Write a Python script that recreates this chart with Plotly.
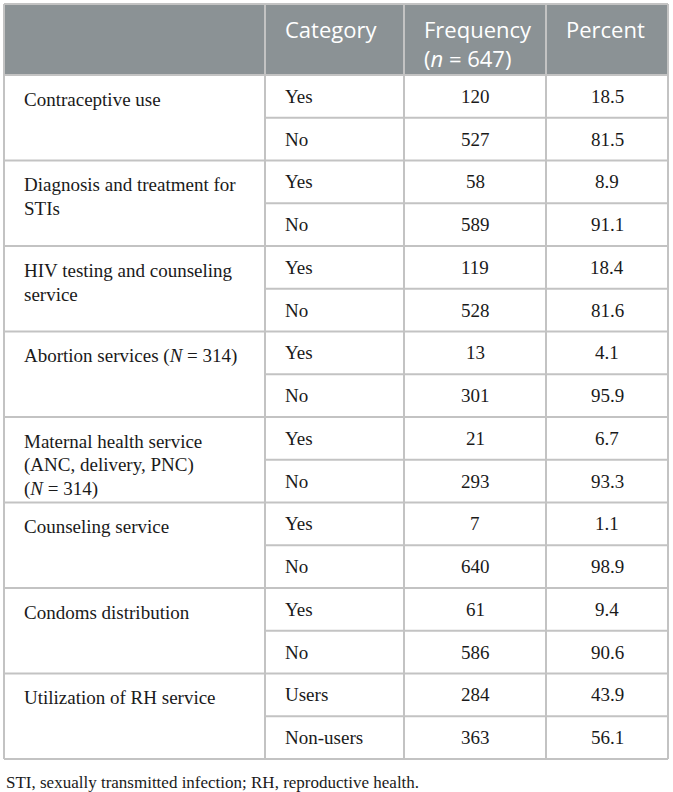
import plotly.graph_objects as go

# table data
groups = [
    "Contraceptive use",
    "Diagnosis and treatment for<br>STIs",
    "HIV testing and counseling<br>service",
    "Abortion services (<i>N</i> = 314)",
    "Maternal health service<br>(ANC, delivery, PNC)<br>(<i>N</i> = 314)",
    "Counseling service",
    "Condoms distribution",
    "Utilization of RH service",
]
categories = [
    "Yes", "No", "Yes", "No", "Yes", "No", "Yes", "No",
    "Yes", "No", "Yes", "No", "Yes", "No", "Users", "Non-users",
]
frequency = [120, 527, 58, 589, 119, 528, 13, 301, 21, 293, 7, 640, 61, 586, 284, 363]
percent = [18.5, 81.5, 8.9, 91.1, 18.4, 81.6, 4.1, 95.9, 6.7, 93.3, 1.1, 98.9, 9.4, 90.6, 43.9, 56.1]
headers = ["", "Category", "Frequency<br>(<i>n</i> = 647)", "Percent"]
footnote = "STI, sexually transmitted infection; RH, reproductive health."

# geometry (pixels)
W, H = 673, 792
col_x = [4, 265, 404, 546, 668]
top, head_bot, bot = 4, 75, 759
row_h = (bot - head_bot) / len(categories)
pad = 18
line_col = "#c3c3c3"
head_fill = "#8b9295"
txt_col = "#1a1a1a"
serif = "Liberation Serif"
sans = "Open Sans"
body_size = 19

fig = go.Figure()
shapes = []
ann = []

# header background
shapes.append(dict(type="rect", x0=col_x[0], x1=col_x[-1], y0=top, y1=head_bot,
                   fillcolor=head_fill, line=dict(width=0), layer="below"))

def hline(y, x0, x1):
    shapes.append(dict(type="line", x0=x0, x1=x1, y0=y, y1=y,
                       line=dict(color=line_col, width=2)))

def vline(x, y0, y1):
    shapes.append(dict(type="line", x0=x, x1=x, y0=y0, y1=y1,
                       line=dict(color=line_col, width=2)))

# outer border and header line
hline(top, col_x[0], col_x[-1])
hline(head_bot, col_x[0], col_x[-1])
hline(bot, col_x[0], col_x[-1])
for x in col_x:
    vline(x, top, bot)

# row lines (no line between Yes/No in the first column)
for i in range(1, len(categories)):
    y = head_bot + i * row_h
    if i % 2 == 0:
        hline(y, col_x[0], col_x[-1])
    else:
        hline(y, col_x[1], col_x[-1])

# header text, top aligned
for j, h in enumerate(headers):
    if not h:
        continue
    ann.append(dict(x=col_x[j] + pad, y=12, text=h, align="left",
                    xanchor="left", yanchor="top", showarrow=False,
                    font=dict(family=sans, size=22, color="white")))

# group labels
for g, label in enumerate(groups):
    y0 = head_bot + 2 * g * row_h
    for k, part in enumerate(label.split("<br>")):
        ann.append(dict(x=col_x[0] + pad, y=y0 + 24 + k * 24, text=part,
                        xanchor="left", yanchor="middle", showarrow=False,
                        font=dict(family=serif, size=body_size, color=txt_col)))

# body cells
for i, (c, f, p) in enumerate(zip(categories, frequency, percent)):
    yc = head_bot + (i + 0.5) * row_h
    ann.append(dict(x=col_x[1] + pad, y=yc, text=c, xanchor="left", yanchor="middle",
                    showarrow=False, font=dict(family=serif, size=body_size, color=txt_col)))
    ann.append(dict(x=(col_x[2] + col_x[3]) / 2, y=yc, text=str(f), xanchor="center",
                    yanchor="middle", showarrow=False,
                    font=dict(family=serif, size=body_size, color=txt_col)))
    ann.append(dict(x=(col_x[3] + col_x[4]) / 2, y=yc, text=f"{p:.1f}", xanchor="center",
                    yanchor="middle", showarrow=False,
                    font=dict(family=serif, size=body_size, color=txt_col)))

ann.append(dict(x=4, y=782, text=footnote, xanchor="left", yanchor="middle",
                showarrow=False, font=dict(family=serif, size=17, color=txt_col)))

fig.update_layout(
    width=W, height=H,
    margin=dict(l=0, r=0, t=0, b=0),
    paper_bgcolor="white", plot_bgcolor="white",
    xaxis=dict(range=[0, W], visible=False, fixedrange=True),
    yaxis=dict(range=[H, 0], visible=False, fixedrange=True),
    shapes=shapes, annotations=ann, showlegend=False,
)

fig.write_html("out.html", config={"displayModeBar": False},
               post_script="document.body.style.margin='0';")
